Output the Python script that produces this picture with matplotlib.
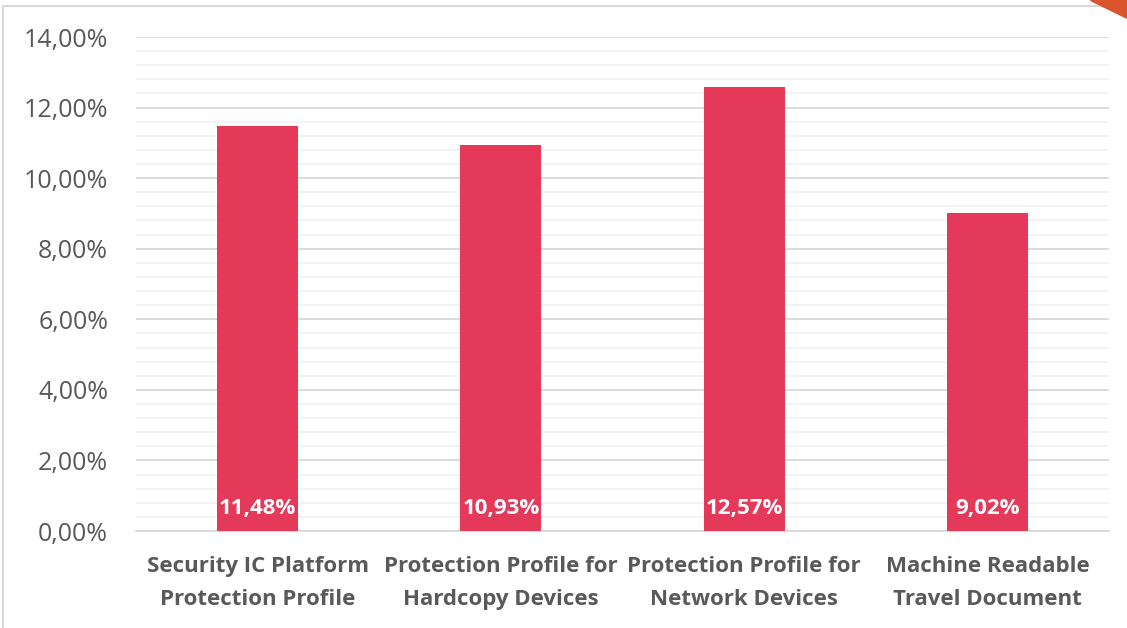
import matplotlib.pyplot as plt
import matplotlib.patches as mpatches
from matplotlib.ticker import MultipleLocator, FuncFormatter
import numpy as np

plt.rcParams['font.family'] = ['Open Sans', 'DejaVu Sans']

categories = ["Security IC Platform\nProtection Profile",
              "Protection Profile for\nHardcopy Devices",
              "Protection Profile for\nNetwork Devices",
              "Machine Readable\nTravel Document"]
values = [11.48, 10.93, 12.57, 9.02]
value_labels = ["11,48%", "10,93%", "12,57%", "9,02%"]

bar_color = '#E5395A'
text_color = '#595959'

fig = plt.figure(figsize=(11.27, 6.28), dpi=100)
ax = fig.add_axes([136/1127, 1 - 531/628, 973/1127, 494/628])

index = np.arange(len(categories))
ax.bar(index, values, 0.333, color=bar_color, zorder=3)

for i, lab in enumerate(value_labels):
    ax.text(index[i], 0.64, lab, ha='center', va='center', color='white',
            fontsize=16, fontweight='bold', zorder=4)

ax.set_xlim(-0.5, 3.5)
ax.set_ylim(0, 14)
ax.yaxis.set_major_locator(MultipleLocator(2))
ax.yaxis.set_minor_locator(MultipleLocator(0.4))
ax.yaxis.set_major_formatter(FuncFormatter(lambda v, p: ('%.2f%%' % v).replace('.', ',')))
ax.grid(which='major', axis='y', color='#D9D9D9', linewidth=1.3, zorder=0)
ax.grid(which='minor', axis='y', color='#F2F2F2', linewidth=1.3, zorder=0)
ax.tick_params(axis='y', which='both', length=0, labelsize=18, labelcolor=text_color, pad=20)
ax.set_xticks(index)
ax.set_xticklabels(categories, fontsize=16, fontweight='bold', color=text_color, linespacing=1.72)
ax.tick_params(axis='x', length=0, pad=18)
for s in ['top', 'left', 'right']:
    ax.spines[s].set_visible(False)
ax.spines['bottom'].set_color('#D9D9D9')
ax.spines['bottom'].set_linewidth(1.3)

# chart frame and corner decoration
fig.patches.append(mpatches.Rectangle((3/1127, -0.01), 1.2, 1 - 6/628 + 0.01,
                                      transform=fig.transFigure, fill=False,
                                      edgecolor='#D9D9D9', linewidth=1.5))
fig.patches.append(mpatches.Polygon([[1090/1127, 1], [1, 1], [1, 1 - 18/628]], closed=True,
                                    transform=fig.transFigure, color='#D9552B'))

fig.savefig('out.png', dpi=100)
